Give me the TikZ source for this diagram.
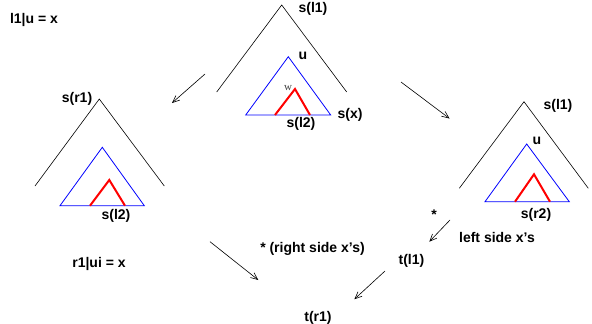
\documentclass[tikz,border=0pt]{standalone}
\usepackage{fontspec}
\setmainfont{Liberation Sans}
\newfontfamily\wfont{Liberation Serif}
\usetikzlibrary{arrows.meta}
\begin{document}
\begin{tikzpicture}[x=1pt,y=-1pt,
  lbl/.style={font=\fontsize{14}{16}\selectfont\bfseries, inner sep=0pt, anchor=center},
  wlbl/.style={font=\wfont\fontsize{11}{12}\selectfont, text=black!75, inner sep=0pt},
  outer/.style={draw=black, line width=0.6pt},
  inner/.style={draw=blue, line width=0.8pt},
  redt/.style={draw=red, line width=2pt},
  arr/.style={draw=black, line width=0.6pt, -{Straight Barb[length=7pt,width=6pt]}}]
\useasboundingbox (0,0) rectangle (592,324);

% center tree
\coordinate (ca) at (281.7,5);
\coordinate (cl) at (216.7,92);
\coordinate (cr) at (346.7,92);
\draw[outer] (cl) -- (ca) -- (cr);
\coordinate (cba) at (288.3,56.7);
\coordinate (cbl) at (245.7,115);
\coordinate (cbr) at (330.7,115);
\draw[inner] (cba) -- (cbl) -- (cbr) -- cycle;
\coordinate (cra) at (295,89);
\coordinate (crl) at (275,115);
\coordinate (crr) at (310,115);
\draw[redt] (crl) -- (cra) -- (crr);
\node[lbl] (sl1c) at (313,9) {s(l1)};
\node[lbl] (uc) at (303,56) {u};
\node[lbl] (sx) at (350,115) {s(x)};
\node[lbl] (sl2c) at (301,124) {s(l2)};
\node[wlbl] (w) at (288,88.5) {w};

% left tree
\coordinate (la) at (99.3,99);
\coordinate (ll) at (35,186);
\coordinate (lr) at (164.3,186);
\draw[outer] (ll) -- (la) -- (lr);
\coordinate (lba) at (102.3,147.3);
\coordinate (lbl) at (60,205.7);
\coordinate (lbr) at (144.3,205.7);
\draw[inner] (lba) -- (lbl) -- (lbr) -- cycle;
\coordinate (lra) at (109.3,180);
\coordinate (lrl) at (90,205.7);
\coordinate (lrr) at (125,205.7);
\draw[redt] (lrl) -- (lra) -- (lrr);
\node[lbl] (sr1) at (77,99) {s(r1)};
\node[lbl] (sl2l) at (116,216) {s(l2)};

% right tree
\coordinate (ra) at (524,101.7);
\coordinate (rl) at (459.3,188.3);
\coordinate (rr) at (588.3,188.3);
\draw[outer] (rl) -- (ra) -- (rr);
\coordinate (rba) at (526.7,144);
\coordinate (rbl) at (485,201.7);
\coordinate (rbr) at (569.3,201.7);
\draw[inner] (rba) -- (rbl) -- (rbr) -- cycle;
\coordinate (rra) at (534,174.3);
\coordinate (rrl) at (515,201.7);
\coordinate (rrr) at (550,201.7);
\draw[redt] (rrl) -- (rra) -- (rrr);
\node[lbl] (sl1r) at (558,106) {s(l1)};
\node[lbl] (ur) at (537,141) {u};
\node[lbl] (sr2) at (536,215) {s(r2)};

% other texts
\node[lbl] (eq1) at (34,20) {l1|u = x};
\node[lbl] (eq2) at (99,264) {r1|ui = x};
\node[lbl] (star) at (434,215) {*};
\node[lbl] (lsx) at (497,237) {left side x’s};
\node[lbl] (rsx) at (312.5,249) {* (right side x’s)};
\node[lbl] (tl1) at (411.5,261) {t(l1)};
\node[lbl] (tr1) at (318,318) {t(r1)};

% arrows
\coordinate (a1s) at (205,74);
\coordinate (a1e) at (172,103);
\coordinate (a2s) at (401,82);
\coordinate (a2e) at (449.5,118.5);
\coordinate (a3s) at (450,220);
\coordinate (a3e) at (429.3,241.7);
\coordinate (a4s) at (210,241.7);
\coordinate (a4e) at (258.3,280);
\coordinate (a5s) at (385,271);
\coordinate (a5e) at (354.3,299.3);
\draw[arr] (a1s) -- (a1e);
\draw[arr] (a2s) -- (a2e);
\draw[arr] (a3s) -- (a3e);
\draw[arr] (a4s) -- (a4e);
\draw[arr] (a5s) -- (a5e);
\end{tikzpicture}
\end{document}
